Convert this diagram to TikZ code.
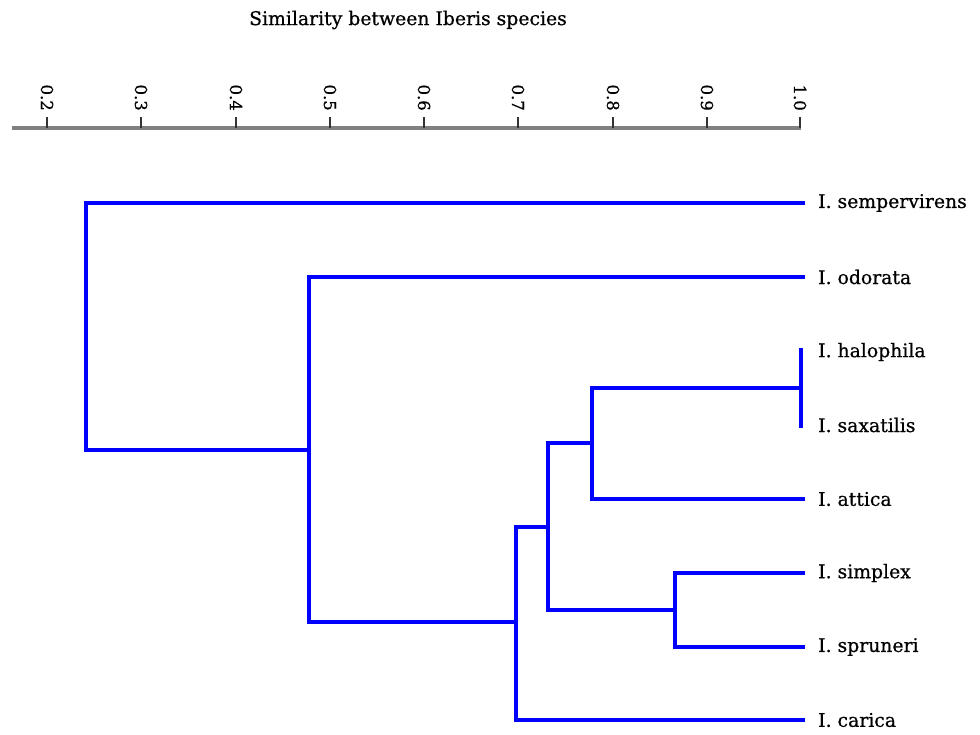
\documentclass[tikz,border=0pt]{standalone}
\usepackage{fontspec}
\setmainfont{DejaVu Serif}[FakeBold=0.6]
\begin{document}
\begin{tikzpicture}[x=1pt,y=-1pt,
  branch/.style={draw={rgb,255:red,0;green,0;blue,255}, line width=3.8pt, line cap=rect, line join=miter},
  axisline/.style={draw=black!50, line width=3.2pt},
  tickmark/.style={draw=black!80, line width=1.5pt},
  ticklabel/.style={rotate=-90, anchor=east, inner sep=0pt, font=\fontsize{16.5}{18}\selectfont},
  leaflabel/.style={anchor=west, inner sep=0pt, font=\fontsize{18.8}{20}\selectfont},
  titlelabel/.style={inner sep=0pt, font=\fontsize{18.8}{20}\selectfont}]
\useasboundingbox (0,0) rectangle (980,734);

% title
\node[titlelabel] (title) at (408,20) {Similarity between Iberis species};

% similarity axis
\coordinate (axL) at (12,128);
\coordinate (axR) at (801,128);
\draw[axisline] (axL) -- (axR);
\foreach \v/\xx in {0.2/47,0.3/141,0.4/236,0.5/330,0.6/424,0.7/518,0.8/613,0.9/707,1.0/800}{
  \coordinate (t\xx) at (\xx,128);
  \draw[tickmark] (t\xx) -- ++(0,-11);
  \node[ticklabel] (l\xx) at (\xx,111) {\v};
}

% leaf ends
\coordinate (sem) at (803,203);
\coordinate (odo) at (803,277);
\coordinate (hal) at (801,350);
\coordinate (sax) at (801,426);
\coordinate (att) at (803,499);
\coordinate (sim) at (803,573);
\coordinate (spr) at (803,647);
\coordinate (car) at (803,720);

% leaf labels
\node[leaflabel] (Lsem) at (818,203) {I. sempervirens};
\node[leaflabel] (Lodo) at (818,277) {I. odorata};
\node[leaflabel] (Lhal) at (818,352) {I. halophila};
\node[leaflabel] (Lsax) at (818,425) {I. saxatilis};
\node[leaflabel] (Latt) at (818,499) {I. attica};
\node[leaflabel] (Lsim) at (818,573) {I. simplex};
\node[leaflabel] (Lspr) at (818,647) {I. spruneri};
\node[leaflabel] (Lcar) at (818,720) {I. carica};

% internal nodes of the tree
\coordinate (hs)   at (801,388);
\coordinate (hsa)  at (592,443);
\coordinate (ss)   at (675,610);
\coordinate (m1)   at (548,527);
\coordinate (m2)   at (516,622);
\coordinate (m3)   at (309,450);
\coordinate (root) at (86,326);

% branches
\draw[branch] (hal) -- (sax);
\draw[branch] (hs) -| (hsa) |- (att);
\draw[branch] (sim) -| (ss) |- (spr);
\draw[branch] (hsa) -| (m1) |- (ss);
\draw[branch] (m1) -| (m2) |- (car);
\draw[branch] (odo) -| (m3) |- (m2);
\draw[branch] (sem) -| (root) |- (m3);
\end{tikzpicture}
\end{document}
